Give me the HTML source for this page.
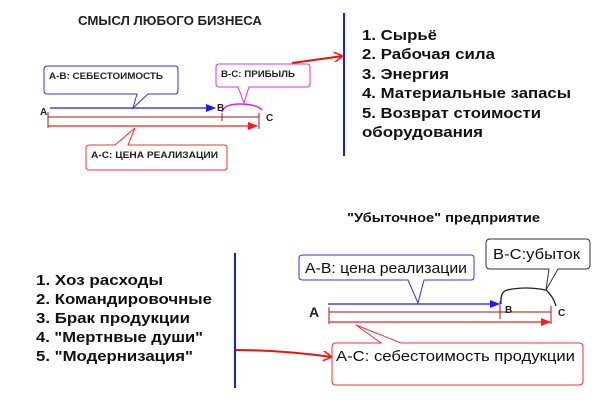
<!DOCTYPE html>
<html><head><meta charset="utf-8"><style>
html,body{margin:0;padding:0;background:#fff;}
svg{display:block;font-family:"Liberation Sans","Noto Sans CJK SC",sans-serif;}
</style></head><body>
<svg width="610" height="403" viewBox="0 0 610 403" xmlns="http://www.w3.org/2000/svg">
<defs>
<marker id="ab" markerWidth="10" markerHeight="8" refX="9" refY="4" orient="auto" markerUnits="userSpaceOnUse"><path d="M0,0 L10,4 L0,8 z" fill="#1a1aff"/></marker>
<marker id="ar" markerWidth="10" markerHeight="8" refX="9" refY="4" orient="auto" markerUnits="userSpaceOnUse"><path d="M0,0 L10,4 L0,8 z" fill="#ff1a1a"/></marker>
<marker id="ao" markerWidth="10" markerHeight="10" refX="9" refY="5" orient="auto" markerUnits="userSpaceOnUse"><path d="M0,0 L9,5 L0,10" fill="none" stroke="#ff1a1a" stroke-width="1.6"/></marker>
</defs>

<!-- TOP -->
<text x="78" y="25" font-size="12.5" font-weight="bold" fill="#222" textLength="184" lengthAdjust="spacingAndGlyphs">СМЫСЛ ЛЮБОГО БИЗНЕСА</text>
<line x1="344" y1="13" x2="344" y2="156" stroke="#1a1aee" stroke-width="2"/>
<line x1="292" y1="63" x2="343" y2="56" stroke="#ee1111" stroke-width="2" marker-end="url(#ao)"/>

<g font-size="15" font-weight="bold" fill="#111">
<text x="362" y="40" textLength="75" lengthAdjust="spacingAndGlyphs">1. Сырьё</text>
<text x="362" y="59" textLength="133" lengthAdjust="spacingAndGlyphs">2. Рабочая сила</text>
<text x="362" y="79" textLength="87" lengthAdjust="spacingAndGlyphs">3. Энергия</text>
<text x="362" y="98" textLength="209" lengthAdjust="spacingAndGlyphs">4. Материальные запасы</text>
<text x="362" y="118" textLength="179" lengthAdjust="spacingAndGlyphs">5. Возврат стоимости</text>
<text x="362" y="137" textLength="121" lengthAdjust="spacingAndGlyphs">оборудования</text>
</g>

<path d="M48,66 H175 Q178,66 178,69 V91 Q178,94 175,94 H148 L133,108 L137,94 H47 Q44,94 44,91 V69 Q44,66 48,66 Z" fill="#fff" stroke="#3333dd" stroke-width="1"/>
<text x="49" y="79" font-size="9.5" font-weight="bold" fill="#222" textLength="114" lengthAdjust="spacingAndGlyphs">A-B: СЕБЕСТОИМОСТЬ</text>
<path d="M219,64 H307 Q310,64 310,67 V84 Q310,87 307,87 H249 L244,103 L238,87 H219 Q216,87 216,84 V67 Q216,64 219,64 Z" fill="#fff" stroke="#dd33dd" stroke-width="1"/>
<text x="221" y="77" font-size="9.5" font-weight="bold" fill="#222" textLength="74" lengthAdjust="spacingAndGlyphs">B-C: ПРИБЫЛЬ</text>
<path d="M222,112 Q224,104 240,104 Q256,104 262,110" fill="none" stroke="#dd22dd" stroke-width="1.5"/>

<line x1="50" y1="108" x2="215" y2="108" stroke="#1a1aff" stroke-width="1.3" marker-end="url(#ab)"/>
<line x1="48" y1="117" x2="259" y2="117" stroke="#aa1111" stroke-width="1"/>
<line x1="48" y1="112" x2="48" y2="128" stroke="#aa1111" stroke-width="1"/>
<line x1="222" y1="113" x2="222" y2="121" stroke="#aa1111" stroke-width="1"/>
<line x1="259" y1="113" x2="259" y2="129" stroke="#aa1111" stroke-width="1"/>
<line x1="48" y1="126" x2="257" y2="126" stroke="#ff1a1a" stroke-width="1.3" marker-end="url(#ar)"/>
<text x="40" y="115" font-size="10" font-weight="bold" fill="#222">A</text>
<text x="217" y="111" font-size="10" font-weight="bold" fill="#222">B</text>
<text x="266" y="121" font-size="10" font-weight="bold" fill="#222">C</text>

<path d="M90,145 H115 L135,128 L128,145 H224 Q227,145 227,148 V167 Q227,170 224,170 H89 Q86,170 86,167 V148 Q86,145 90,145 Z" fill="#fff" stroke="#ee3333" stroke-width="1"/>
<text x="91" y="158" font-size="9.5" font-weight="bold" fill="#222" textLength="127" lengthAdjust="spacingAndGlyphs">A-C:  ЦЕНА РЕАЛИЗАЦИИ</text>

<!-- BOTTOM -->
<text x="347" y="222" font-size="13" font-weight="bold" fill="#111" textLength="193" lengthAdjust="spacingAndGlyphs">"Убыточное" предприятие</text>
<line x1="235" y1="253" x2="235" y2="388" stroke="#1a1aee" stroke-width="2"/>
<g font-size="15" font-weight="bold" fill="#111">
<text x="36" y="285" textLength="127" lengthAdjust="spacingAndGlyphs">1. Хоз расходы</text>
<text x="36" y="304" textLength="176" lengthAdjust="spacingAndGlyphs">2. Командировочные</text>
<text x="36" y="323" textLength="154" lengthAdjust="spacingAndGlyphs">3. Брак продукции</text>
<text x="36" y="342" textLength="167" lengthAdjust="spacingAndGlyphs">4. "Мертнвые души"</text>
<text x="36" y="361" textLength="157" lengthAdjust="spacingAndGlyphs">5. "Модернизация"</text>
</g>
<path d="M236,350 Q280,350 332,357" fill="none" stroke="#ee1111" stroke-width="2" marker-end="url(#ao)"/>

<path d="M303,255 H471 Q474,255 474,258 V277 Q474,280 471,280 H424 L418,303 L408,280 H303 Q299,280 299,277 V258 Q299,255 303,255 Z" fill="#fff" stroke="#3333dd" stroke-width="1"/>
<text x="305" y="273" font-size="15" fill="#111" textLength="162" lengthAdjust="spacingAndGlyphs">A-B: цена реализации</text>

<path d="M490,239 H586 Q590,239 590,243 V265 Q590,269 586,269 H558 L546,290 L549,269 H490 Q486,269 486,265 V243 Q486,239 490,239 Z" fill="#fff" stroke="#333" stroke-width="1"/>
<text x="493" y="259" font-size="15" fill="#111" textLength="87" lengthAdjust="spacingAndGlyphs">B-C:убыток</text>
<path d="M501,304 Q500,292 507,290 Q525,286 546,290 Q553,296 556,306" fill="none" stroke="#222" stroke-width="1.3"/>

<line x1="328" y1="304" x2="499" y2="304" stroke="#1a1aff" stroke-width="1.3" marker-end="url(#ab)"/>
<line x1="329" y1="312" x2="551" y2="312" stroke="#aa1111" stroke-width="1"/>
<line x1="329" y1="307" x2="329" y2="324" stroke="#aa1111" stroke-width="1"/>
<line x1="500" y1="301" x2="500" y2="319" stroke="#aa1111" stroke-width="1"/>
<line x1="551" y1="306" x2="551" y2="324" stroke="#aa1111" stroke-width="1"/>
<line x1="329" y1="322" x2="550" y2="322" stroke="#ff1a1a" stroke-width="1.3" marker-end="url(#ar)"/>
<text x="309" y="317" font-size="14" font-weight="bold" fill="#222">A</text>
<text x="505" y="313" font-size="10" font-weight="bold" fill="#222">B</text>
<text x="558" y="316" font-size="10" font-weight="bold" fill="#222">C</text>

<path d="M336,343 H381 L356,325 L401,343 H579 Q583,343 583,347 V381 Q583,385 579,385 H336 Q332,385 332,381 V347 Q332,343 336,343 Z" fill="#fff" stroke="#ee3333" stroke-width="1"/>
<text x="336" y="361" font-size="15" fill="#111" textLength="239" lengthAdjust="spacingAndGlyphs">A-C: себестоимость  продукции</text>
</svg>
</body></html>
